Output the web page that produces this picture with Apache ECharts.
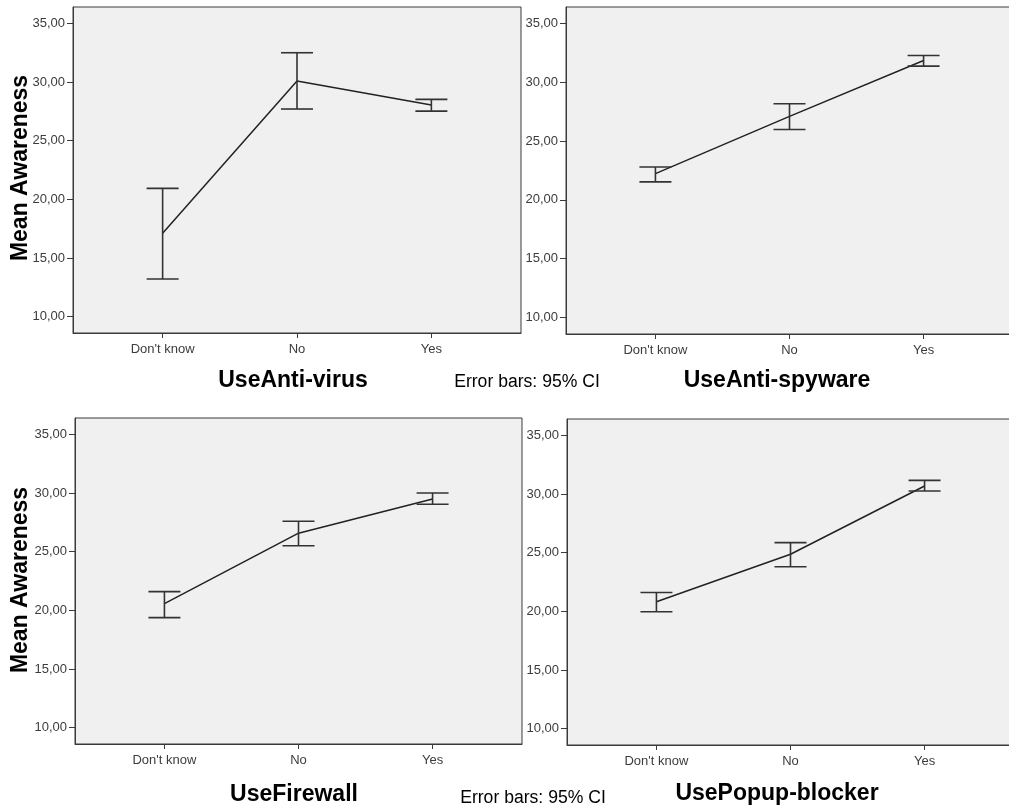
<!DOCTYPE html>
<html>
<head>
<meta charset="utf-8">
<script src="https://cdn.jsdelivr.net/npm/echarts@6/dist/echarts.min.js"></script>
<style>
  html, body { margin: 0; padding: 0; background: #ffffff; }
  #chart { width: 1009px; height: 810px; }
</style>
</head>
<body>
<div id="chart"></div>
<script>
// ---- data ----
const categories = ["Don't know", "No", "Yes"];
const yTicks = [10, 15, 20, 25, 30, 35];

const panelTitles = ["UseAnti-virus", "UseAnti-spyware", "UseFirewall", "UsePopup-blocker"];

const antivirusMean  = [17.10, 30.08, 28.04];
const antivirusLow   = [13.20, 27.70, 27.52];
const antivirusHigh  = [20.93, 32.50, 28.52];

const antispywareMean = [22.23, 27.10, 31.85];
const antispywareLow  = [21.53, 25.98, 31.37];
const antispywareHigh = [22.80, 28.17, 32.28];

const firewallMean = [20.57, 26.58, 29.50];
const firewallLow  = [19.38, 25.50, 29.05];
const firewallHigh = [21.59, 27.60, 30.01];

const popupMean = [20.82, 24.87, 30.69];
const popupLow  = [19.96, 23.80, 30.26];
const popupHigh = [21.61, 25.86, 31.17];

const panels = [
  { mean: antivirusMean, low: antivirusLow, high: antivirusHigh },
  { mean: antispywareMean, low: antispywareLow, high: antispywareHigh },
  { mean: firewallMean, low: firewallLow, high: firewallHigh },
  { mean: popupMean, low: popupLow, high: popupHigh }
];

// ---- layout ----
const grids = [
  { left: 73,  top: 7,   width: 448, height: 326 },
  { left: 566, top: 7,   width: 447, height: 327 },
  { left: 75,  top: 418, width: 447, height: 326 },
  { left: 567, top: 419, width: 447, height: 326 }
];

const FONT = "'Liberation Sans', Arial, sans-serif";
const chart = echarts.init(document.getElementById('chart'), null, { renderer: 'canvas' });

const option = {
  backgroundColor: '#ffffff',
  animation: false,
  grid: grids.map(g => Object.assign({
    show: true, backgroundColor: '#f0f0f0', borderColor: '#3a3a3a', borderWidth: 1,
    containLabel: false, outerBoundsMode: 'none'
  }, g)),
  xAxis: grids.map((g, i) => ({
    type: 'value', gridIndex: i, min: -0.667, max: 2.667,
    splitLine: { show: false },
    axisLine: { show: true, onZero: false, lineStyle: { color: '#3a3a3a', width: 1 } },
    axisTick: { show: true, customValues: [0, 1, 2], length: 5, lineStyle: { color: '#3a3a3a' } },
    axisLabel: {
      customValues: [0, 1, 2], formatter: v => categories[Math.round(v)] || '',
      color: '#3c3c3c', fontFamily: FONT, fontSize: 13, margin: 10
    }
  })),
  yAxis: grids.map((g, i) => ({
    type: 'value', gridIndex: i, min: 8.6, max: 36.4,
    splitLine: { show: false },
    axisLine: { show: true, onZero: false, lineStyle: { color: '#3a3a3a', width: 1 } },
    axisTick: { show: true, customValues: yTicks, length: 6, lineStyle: { color: '#3a3a3a' } },
    axisLabel: {
      customValues: yTicks, formatter: v => v.toFixed(2).replace('.', ','),
      color: '#3c3c3c', fontFamily: FONT, fontSize: 13, margin: 8
    }
  })),
  series: [],
  graphic: []
};

panels.forEach((p, i) => {
  option.series.push({
    type: 'line', xAxisIndex: i, yAxisIndex: i,
    data: p.mean.map((m, k) => [k, m]),
    symbol: 'none',
    lineStyle: { color: '#222222', width: 1.5 },
    z: 3
  });
  option.series.push({
    type: 'custom', xAxisIndex: i, yAxisIndex: i,
    data: p.mean.map((m, k) => [k, p.low[k], p.high[k]]),
    renderItem: function (params, api) {
      const x = api.value(0);
      const lo = api.coord([x, api.value(1)]);
      const hi = api.coord([x, api.value(2)]);
      const hw = 16;
      const style = { stroke: '#333333', lineWidth: 1.6 };
      return {
        type: 'group',
        children: [
          { type: 'line', shape: { x1: lo[0], y1: lo[1], x2: hi[0], y2: hi[1] }, style: style },
          { type: 'line', shape: { x1: lo[0] - hw, y1: lo[1], x2: lo[0] + hw, y2: lo[1] }, style: style },
          { type: 'line', shape: { x1: hi[0] - hw, y1: hi[1], x2: hi[0] + hw, y2: hi[1] }, style: style }
        ]
      };
    },
    z: 4
  });
});

// texts
const titlePos = [[293, 381], [777, 381], [294, 795], [777, 794]];
panelTitles.forEach((t, i) => {
  option.graphic.push({
    type: 'text', x: titlePos[i][0], y: titlePos[i][1],
    style: { text: t, font: "bold 23px " + FONT, fill: '#000', textAlign: 'center', textVerticalAlign: 'middle' }
  });
});
[[168, 21], [580, 21]].forEach(pos => {
  option.graphic.push({
    type: 'text', x: pos[1], y: pos[0], rotation: Math.PI / 2,
    style: { text: 'Mean Awareness', font: "bold 23px " + FONT, fill: '#000', textAlign: 'center', textVerticalAlign: 'middle' }
  });
});
[[527, 382], [533, 798]].forEach(pos => {
  option.graphic.push({
    type: 'text', x: pos[0], y: pos[1],
    style: { text: 'Error bars: 95% CI', font: "17.6px " + FONT, fill: '#000', textAlign: 'center', textVerticalAlign: 'middle' }
  });
});

chart.setOption(option);
</script>
</body>
</html>
